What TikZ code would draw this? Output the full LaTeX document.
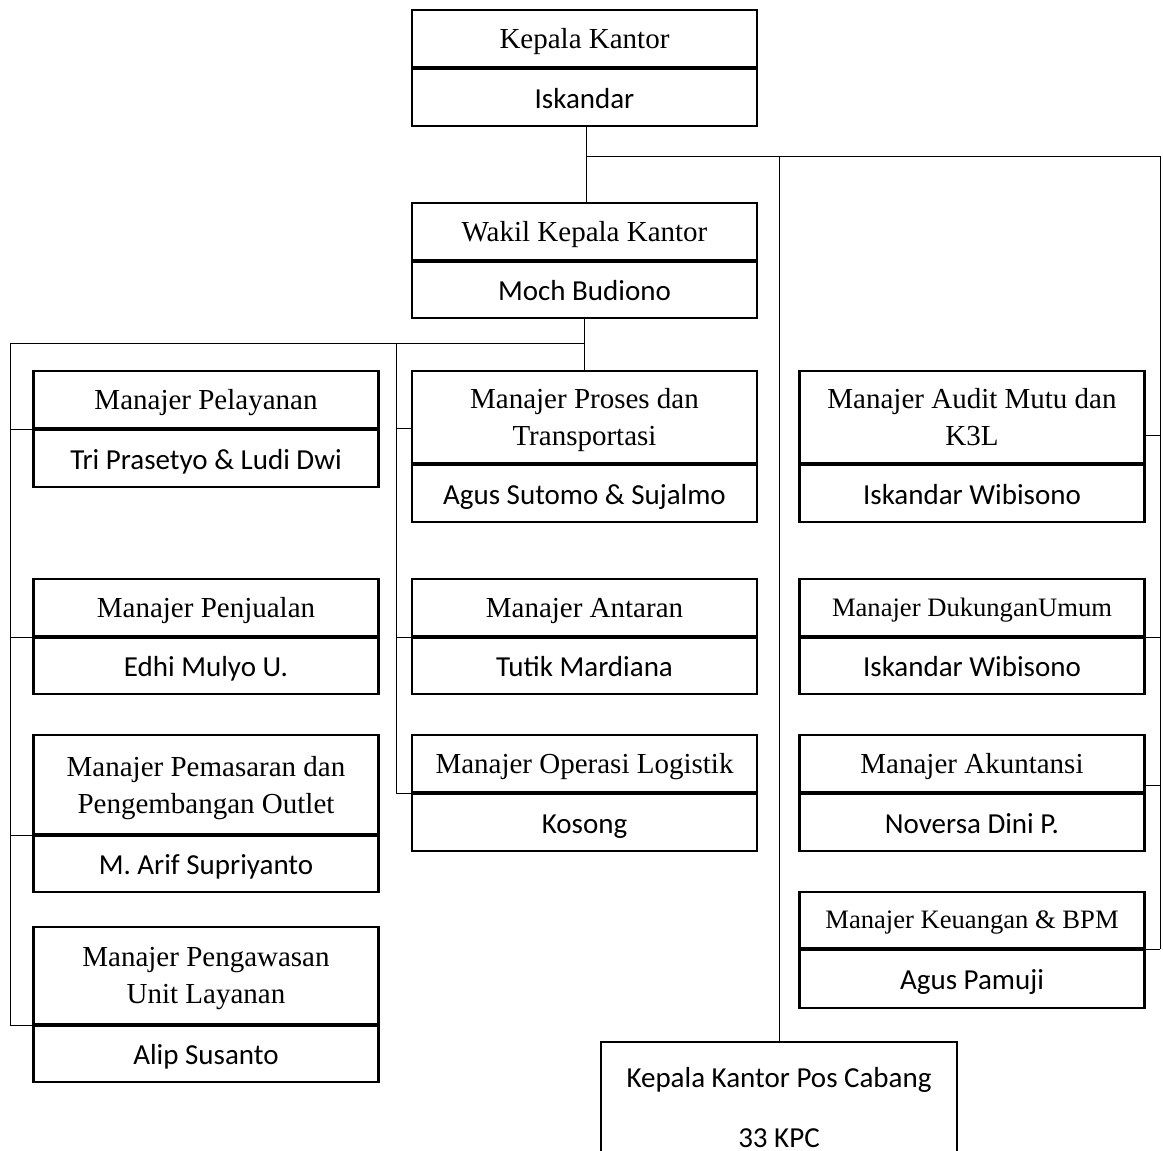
\documentclass[tikz,border=0pt]{standalone}
\usepackage{fontspec}
\setmainfont{Liberation Serif}
\newfontfamily\calfont{Carlito}
\begin{document}
\begin{tikzpicture}[x=0.5pt,y=-0.5pt,
  box/.style={draw, line width=1.25pt, inner sep=0pt, align=center, minimum width=172.5pt},
  ttl/.style={box, font=\fontsize{14.5}{18.5}\selectfont, text depth=0pt},
  ttls/.style={box, font=\fontsize{13.3}{18.5}\selectfont, text depth=0pt},
  nm/.style={box, font=\calfont\fontsize{14.5}{18.5}\selectfont, minimum height=29.5pt, text height=11.5pt, text depth=0pt},
  conn/.style={line width=0.5pt},
  divline/.style={line width=2.2pt}]
\useasboundingbox (0,0) rectangle (1163,1151);
\clip (0,0) rectangle (1163,1151);
% top
\node[ttl, minimum height=28.5pt] (K1) at (584.5,38.5) {Kepala Kantor};
\node[nm] (K2) at (584.5,96.5) {Iskandar};
\node[ttl, minimum height=28.5pt] (W1) at (584.5,231.5) {Wakil Kepala Kantor};
\node[nm, minimum height=29pt] (W2) at (584.5,289) {Moch Budiono};
% left column
\node[ttl, minimum height=28.5pt] (L1t) at (206,399.5) {Manajer Pelayanan};
\node[nm] (L1n) at (206,457.5) {Tri Prasetyo \& Ludi Dwi};
\node[ttl, minimum height=28.5pt] (L2t) at (206,607.5) {Manajer Penjualan};
\node[nm, minimum height=29pt] (L2n) at (206,665) {Edhi Mulyo U.};
\node[ttl, minimum height=49.5pt] (L3t) at (206,784.5) {Manajer Pemasaran dan\\Pengembangan Outlet};
\node[nm, minimum height=29pt] (L3n) at (206,863) {M. Arif Supriyanto};
\node[ttl, minimum height=48.5pt] (L4t) at (206,975.5) {Manajer Pengawasan\\Unit Layanan};
\node[nm, minimum height=29pt] (L4n) at (206,1053) {Alip Susanto};
% middle column
\node[ttl, minimum height=46pt] (M1t) at (584.5,417) {Manajer Proses dan\\Transportasi};
\node[nm] (M1n) at (584.5,492.5) {Agus Sutomo \& Sujalmo};
\node[ttl, minimum height=28.5pt] (M2t) at (584.5,607.5) {Manajer Antaran};
\node[nm, minimum height=29pt] (M2n) at (584.5,665) {Tutik Mardiana};
\node[ttl, minimum height=28.5pt] (M3t) at (584.5,763.5) {Manajer Operasi Logistik};
\node[nm] (M3n) at (584.5,821.5) {Kosong};
% right column
\node[ttl, minimum height=46pt] (R1t) at (972,417) {Manajer Audit Mutu dan\\K3L};
\node[nm] (R1n) at (972,492.5) {Iskandar Wibisono};
\node[ttls, minimum height=28.5pt] (R2t) at (972,607.5) {Manajer DukunganUmum};
\node[nm, minimum height=29pt] (R2n) at (972,665) {Iskandar Wibisono};
\node[ttl, minimum height=28.5pt] (R3t) at (972,763.5) {Manajer Akuntansi};
\node[nm] (R3n) at (972,821.5) {Noversa Dini P.};
\node[ttls, minimum height=28pt] (R4t) at (972,920) {Manajer Keuangan \& BPM};
\node[nm, minimum height=30pt] (R4n) at (972,978) {Agus Pamuji};
% bottom
\node[box, minimum width=178pt, minimum height=66pt, font=\calfont\fontsize{14.5}{30}\selectfont] (KPC) at (779,1108) {Kepala Kantor Pos Cabang\\33 KPC};
% thick dividers
\foreach \n in {K1,W1,L1t,L2t,L3t,L4t,M1t,M2t,M3t,R1t,R2t,R3t,R4t}
  \draw[divline] (\n.south west) -- (\n.south east);
% connector coordinates
\coordinate (j1) at (586,156);
\coordinate (rtop) at (1160,156);
\coordinate (lj) at (10,343);
\coordinate (mj) at (396,343);
% top connectors
\draw[conn] (K2.south -| j1) -- (W1.north -| j1);
\draw[conn] (j1) -- (rtop) -- (rtop |- R4t.south);
\draw[conn] (KPC.north |- j1) -- (KPC.north);
\draw[conn] ([yshift=-9pt]R1t.east) -- ([yshift=-9pt]R1t.east -| rtop);
\draw[conn] (R2t.south east) -- (R2t.south east -| rtop);
\draw[conn] ([yshift=4pt]R3t.south east) -- ([yshift=4pt]R3t.south east -| rtop);
\draw[conn] (R4t.south east) -- (R4t.south east -| rtop);
% from Wakil
\draw[conn] (W2.south) -- (M1t.north);
\draw[conn] (W2.south |- lj) -- (lj) -- (lj |- L4t.south);
\draw[conn] (mj) -- (mj |- M3t.south);
\foreach \n in {L1t,L2t,L3t,L4t}
  \draw[conn] (\n.south west) -- (\n.south west -| lj);
\draw[conn] ([yshift=-5.5pt]M1t.west) -- ([yshift=-5.5pt]M1t.west -| mj);
\draw[conn] (M2t.south west) -- (M2t.south west -| mj);
\draw[conn] (M3t.south west) -- (M3t.south west -| mj);
\end{tikzpicture}
\end{document}
